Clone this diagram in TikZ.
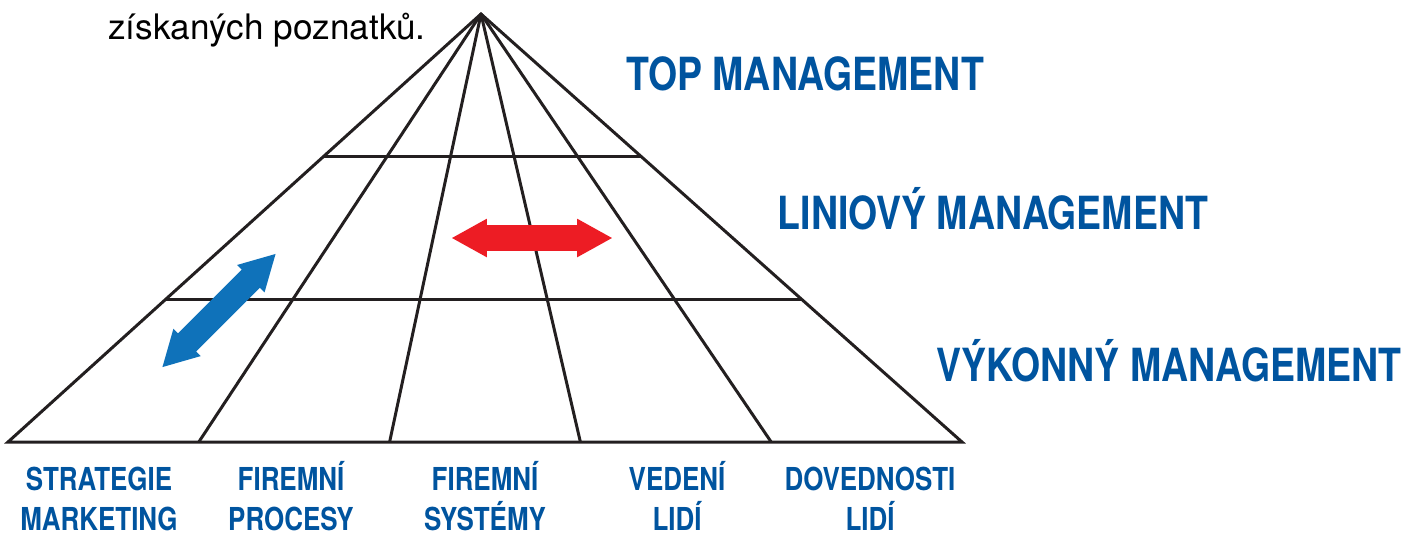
\documentclass[tikz,border=0pt]{standalone}
\usepackage{fontspec}
\setmainfont{TeX Gyre Heros}
\newfontfamily\condfont[FakeStretch=0.82]{TeX Gyre Heros}
\usetikzlibrary{calc,positioning,shapes.arrows}
\definecolor{mgblue}{RGB}{0,84,159}
\definecolor{arrblue}{RGB}{15,114,186}
\definecolor{arrred}{RGB}{237,28,36}
\definecolor{ink}{RGB}{35,31,32}

\begin{document}
\begin{tikzpicture}[x=0.02cm,y=-0.02cm,
    levellab/.style={font=\condfont\bfseries\fontsize{26}{30}\selectfont,
      text=mgblue,anchor=base,inner sep=0pt},
    collab/.style={font=\condfont\bfseries\fontsize{18}{22.5}\selectfont,
      text=mgblue,anchor=base,align=center,inner sep=0pt},
    pyr/.style={draw=ink,line width=1.7pt,line join=miter},
    dblarr/.style={double arrow,inner sep=0pt,text height=0.25cm,
      text depth=0.25cm,minimum height=3.2cm,minimum width=0.76cm,
      double arrow head extend=0.13cm,double arrow tip angle=58}]
 \useasboundingbox (0,0) rectangle (1418,535);
 % pyramid
 \coordinate (apex) at (481,14);
 \foreach \i in {0,...,5} {\coordinate (b\i) at ({8+190.8*\i},442);}
 \coordinate (l1) at ($(apex)!0.3333!(b0)$);
 \coordinate (r1) at ($(apex)!0.3333!(b5)$);
 \coordinate (l2) at ($(apex)!0.6667!(b0)$);
 \coordinate (r2) at ($(apex)!0.6667!(b5)$);
 \draw[pyr] (b0) -- (apex) -- (b5) -- cycle;
 \path[pyr] foreach \i in {1,...,4} {(apex) edge (b\i)};
 \draw[pyr] (l1) -- (r1) (l2) -- (r2);

 \node[anchor=base,inner sep=0pt,font=\fontsize{20}{24}\selectfont] (poznatky)
  at (267,39) {získaných poznatků.};

 % levels
 \node[levellab] (toplab) at (805,90) {TOP MANAGEMENT};
 \node[levellab] (linlab) at (993,229) {LINIOVÝ MANAGEMENT};
 \node[levellab] (vyklab) at (1169,381) {VÝKONNÝ MANAGEMENT};

 % columns (base = last line)
 \node[collab] (strat) at (99,530) {STRATEGIE\\MARKETING};
 \node[collab] (proc) at (291,530) {FIREMNÍ\\PROCESY};
 \node[collab] (syst) at (485,530) {FIREMNÍ\\SYSTÉMY};
 \node[collab] (vedeni) at (677,530) {VEDENÍ\\LIDÍ};
 \node[collab] (doved) at (870,530) {DOVEDNOSTI\\LIDÍ};

 % arrows
 \node[dblarr,fill=arrred] (horarr) at (532,238) {};
 \node[dblarr,fill=arrblue,rotate=45] (diagarr) at (219,310.5) {};
\end{tikzpicture}
\end{document}
